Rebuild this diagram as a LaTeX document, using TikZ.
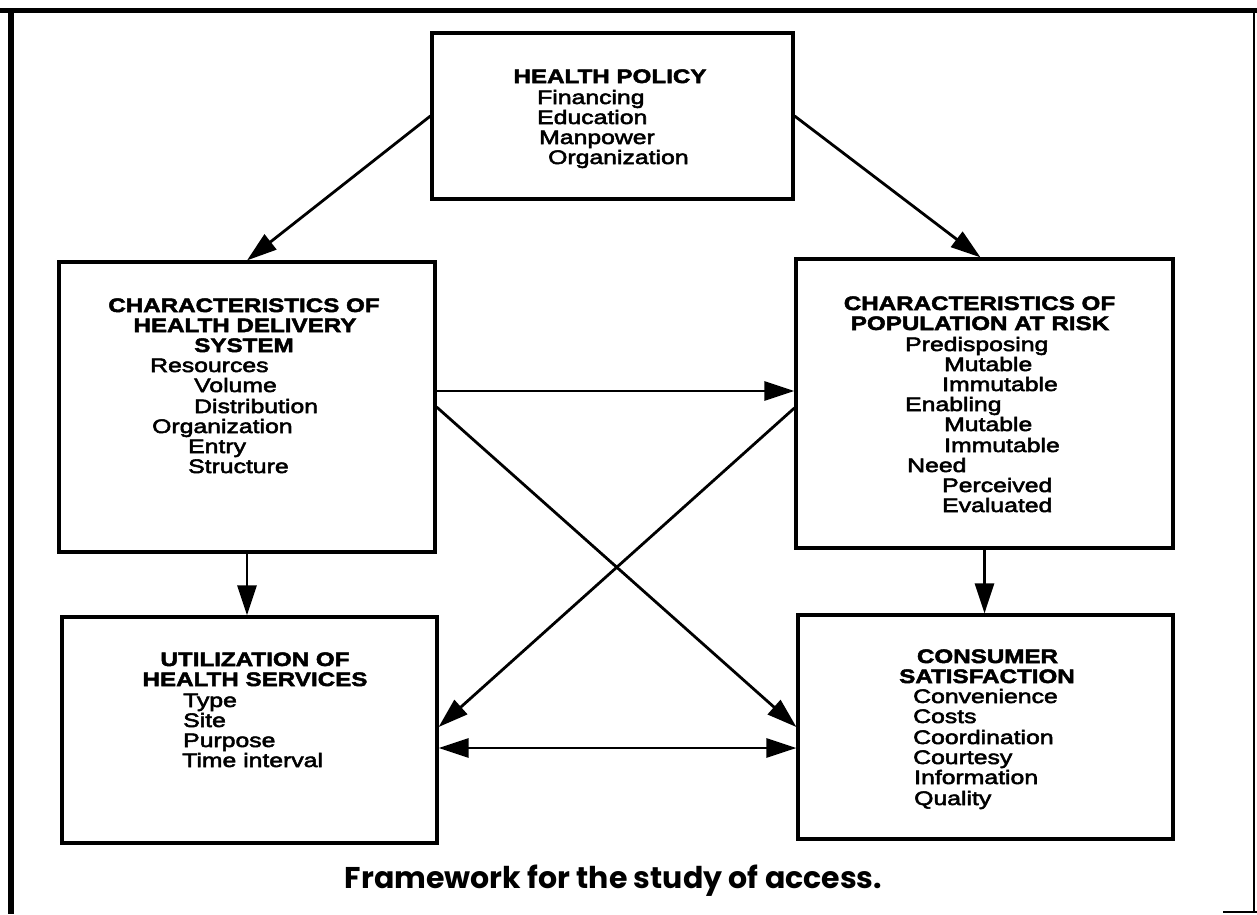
\documentclass[tikz,border=0pt]{standalone}
\usepackage{fontspec}
\setmainfont{Liberation Sans}
\newfontfamily\headfont{Liberation Sans Bold}[FakeStretch=1.24,FakeBold=2.5]
\newfontfamily\itemfont{Liberation Sans}[FakeStretch=1.27,FakeBold=2.8]
\newfontfamily\capfont{Poppins}
\usetikzlibrary{arrows.meta,calc}
\begin{document}
\begin{tikzpicture}[x=1pt,y=-1pt,
  box/.style={draw, line width=3.2pt, rectangle, inner sep=0pt},
  conn/.style={line width=2.8pt, -{Triangle[length=30pt,width=19pt]}},
  twoway/.style={line width=2.8pt, {Triangle[length=30pt,width=19pt]}-{Triangle[length=30pt,width=19pt]}},
  head/.style={anchor=base, inner sep=0pt, font={\headfont\fontsize{19.5}{20}\selectfont}},
  item/.style={anchor=base west, inner sep=0pt, font={\itemfont\fontsize{19.5}{20}\selectfont}},
  capt/.style={anchor=base, inner sep=0pt, font={\capfont\bfseries\fontsize{30}{34}\selectfont}}
]
\useasboundingbox (0,0) rectangle (1257,914);
% outer frame
\draw[line width=6pt] (11,8) -- (11,914);
\draw[line width=5pt] (0,10) -- (1257,10);
\draw[line width=2pt] (1254,10) -- (1254,913);
\draw[line width=2pt] (1223,912) -- (1257,912);

% boxes
\node[box, minimum width=361pt, minimum height=166pt] (hp) at (612.5,116) {};
\node[box, minimum width=376pt, minimum height=290pt] (deliv) at (247,407) {};
\node[box, minimum width=377pt, minimum height=289pt] (pop) at (984.5,403.5) {};
\node[box, minimum width=375pt, minimum height=226pt] (util) at (249.5,730) {};
\node[box, minimum width=375pt, minimum height=224pt] (cons) at (985.5,727) {};

% health policy text
\node[head] (hph) at (610,83) {HEALTH POLICY};
\foreach \x/\y/\t [count=\i] in {537/104/Financing, 537/124/Education, 539/144/Manpower, 548/164/Organization}
  \node[item] (hpi\i) at (\x,\y) {\t};

% delivery system text
\node[head] (dh1) at (244,312) {CHARACTERISTICS OF};
\node[head] (dh2) at (245,332) {HEALTH DELIVERY};
\node[head] (dh3) at (244,352) {SYSTEM};
\foreach \x/\y/\t [count=\i] in {150/372/Resources, 194/392/Volume, 194/413/Distribution, 152/433/Organization, 188/453/Entry, 188/473/Structure}
  \node[item] (di\i) at (\x,\y) {\t};

% population at risk text
\node[head] (ph1) at (979.5,310) {CHARACTERISTICS OF};
\node[head] (ph2) at (980,330) {POPULATION AT RISK};
\foreach \x/\y/\t [count=\i] in {905/351/Predisposing, 944/371/Mutable, 942/391/Immutable, 905/411/Enabling, 944/431/Mutable, 944/452/Immutable, 907/472/Need, 942/492/Perceived, 942/512/Evaluated}
  \node[item] (pi\i) at (\x,\y) {\t};

% utilization text
\node[head] (uh1) at (255,666) {UTILIZATION OF};
\node[head] (uh2) at (255,686) {HEALTH SERVICES};
\foreach \x/\y/\t [count=\i] in {183/707/Type, 183/727/Site, 183/747/Purpose, 182/767/Time interval}
  \node[item] (ui\i) at (\x,\y) {\t};

% consumer satisfaction text
\node[head] (ch1) at (987.5,663) {CONSUMER};
\node[head] (ch2) at (987,683) {SATISFACTION};
\foreach \x/\y/\t [count=\i] in {913/703/Convenience, 913/723/Costs, 913/744/Coordination, 913/764/Courtesy, 914/784/Information, 914/805/Quality}
  \node[item] (ci\i) at (\x,\y) {\t};

% caption
\node[capt] (cap) at (613.5,888) {Framework for the study of access.};

% connectors
\draw[conn] (hp.west) -- (deliv.north);
\draw[conn] (hp.east) -- ($(pop.north)+(-4,0)$);
\draw[conn] ($(deliv.east)+(0,-16)$) -- ($(pop.west)+(0,-12.5)$);
\draw[conn] (deliv.east) -- (cons.west);
\draw[conn] ($(pop.west)+(0,4.5)$) -- ($(util.east)+(0,-3)$);
\draw[conn] (deliv.south) -- (deliv.south |- util.north);
\draw[conn] (pop.south) -- (pop.south |- cons.north);
\draw[twoway] ($(util.east)+(0,18)$) -- ($(cons.west)+(0,21)$);
\end{tikzpicture}
\end{document}
